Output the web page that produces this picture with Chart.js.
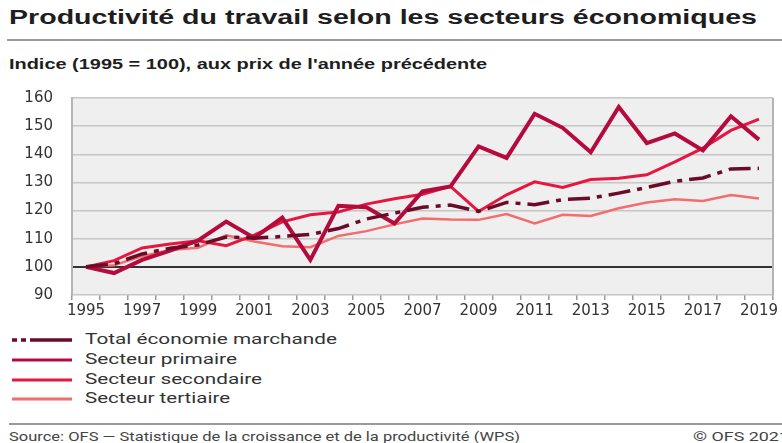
<!DOCTYPE html>
<html lang="fr">
<head>
<meta charset="utf-8">
<script src="https://cdn.jsdelivr.net/npm/chart.js@4/dist/chart.umd.min.js"></script>
<style>
  html, body { margin: 0; padding: 0; background: #fff; }
  body { width: 782px; height: 443px; position: relative; overflow: hidden; font-family: Roboto, "Liberation Sans", sans-serif; color: #222; }
  .txt { position: absolute; white-space: nowrap; transform-origin: 0 50%; display: inline-block; }
  #title { left: 9px; top: 6px; font: bold 20px "Liberation Sans", Arial, sans-serif; color: #1e1e1e; }
  #subtitle { left: 9px; top: 56px; font: bold 14px "Liberation Sans", Arial, sans-serif; color: #1e1e1e; }
  .rule { position: absolute; height: 2px; background: #9a9a9a; }
  #chartBox { position: absolute; left: 0; top: 70px; width: 782px; height: 253px; }
  #legend { position: absolute; left: 0; top: 330px; }
  .legItem { position: absolute; left: 0; height: 20px; width: 400px; }
  .legItem svg { position: absolute; left: 10px; top: 5px; }
  .legItem span { position: absolute; left: 85px; top: 1px; font-size: 14px; color: #333; }
  #source { left: 9px; top: 429px; font-size: 13px; color: #444; }
  #copy { left: 693px; top: 429px; font-size: 13px; color: #444; }
</style>
</head>
<body>
<div id="title" class="txt">Productivité du travail selon les secteurs économiques</div>
<div class="rule" style="left:7px; top:39px; width:775px;"></div>
<div id="subtitle" class="txt">Indice (1995 = 100), aux prix de l'année précédente</div>
<div id="chartBox"><canvas id="chart"></canvas></div>
<div id="legend"></div>
<div class="rule" style="left:9px; top:423px; width:773px;"></div>
<div id="source" class="txt">Source: OFS — Statistique de la croissance et de la productivité (WPS)</div>
<div id="copy" class="txt">© OFS 2021</div>

<script>
// Data
const years = ['1995','1996','1997','1998','1999','2000','2001','2002','2003','2004','2005','2006',
  '2007','2008','2009','2010','2011','2012','2013','2014','2015','2016','2017','2018','2019'];

const totalEco = [100, 101.1, 104.6, 106.6, 107.8, 110.6, 110.2, 110.8, 111.5, 113.6, 117.0, 119.1,
  121.2, 122.0, 119.7, 122.9, 122.1, 123.9, 124.4, 126.2, 128.2, 130.4, 131.6, 134.8, 135.0];
const primaire = [100, 97.8, 102.5, 105.8, 109.4, 116.1, 110.3, 117.5, 102.5, 121.7, 121.2, 115.4,
  126.8, 128.6, 142.8, 138.7, 154.4, 149.4, 140.7, 156.8, 144.0, 147.4, 141.4, 153.5, 145.2];
const secondaire = [100, 102.2, 106.7, 108.1, 109.3, 107.5, 111.3, 116.0, 118.5, 119.5, 122.3, 124.2,
  125.8, 128.6, 119.7, 125.6, 130.2, 128.2, 131.0, 131.5, 132.7, 137.3, 142.2, 148.5, 152.5];
const tertiaire = [100, 100.6, 103.8, 106.0, 106.8, 111.2, 109.0, 107.3, 107.0, 111.0, 112.7, 115.1,
  117.2, 116.8, 116.7, 118.8, 115.4, 118.5, 118.1, 120.8, 122.9, 124.0, 123.4, 125.5, 124.3];

const seriesNames = ['Total économie marchande', 'Secteur primaire', 'Secteur secondaire', 'Secteur tertiaire'];
const seriesValues = [totalEco, primaire, secondaire, tertiaire];
const seriesColors = ['#6b0b29', '#b50a3d', '#e6163f', '#f26d6d'];
const seriesWidths = [3.5, 4, 3, 2.5];
const seriesDash = [[22, 7, 5, 7], [], [], []];

const yTicks = [90, 100, 110, 120, 130, 140, 150, 160];

// stretch text boxes to the widths seen in the reference
function fitWidth(id, w) {
  const el = document.getElementById(id);
  const nat = el.getBoundingClientRect().width;
  el.style.transform = 'scaleX(' + (w / nat) + ')';
}
fitWidth('title', 748);
fitWidth('subtitle', 478);
fitWidth('source', 511);
fitWidth('copy', 96);

// legend
const legendEl = document.getElementById('legend');
const legendWidths = [252, 152, 177, 145];
seriesNames.forEach((name, i) => {
  const item = document.createElement('div');
  item.className = 'legItem';
  item.style.top = (i * 19.8) + 'px';
  const dash = i === 0 ? 'stroke-dasharray="5 4 5 4 60"' : '';
  item.innerHTML = `<svg width="64" height="10"><line x1="2" y1="5" x2="62" y2="5" stroke="${seriesColors[i]}" stroke-width="${i === 0 ? 3.5 : 3}" ${dash}/></svg><span>${name}</span>`;
  legendEl.appendChild(item);
  const sp = item.querySelector('span');
  sp.style.transformOrigin = '0 50%';
  sp.style.transform = 'scaleX(' + (legendWidths[i] / sp.getBoundingClientRect().width) + ')';
});

// plot background + right frame line
const plotFrame = {
  id: 'plotFrame',
  beforeDraw(chart) {
    const { ctx, chartArea: a } = chart;
    ctx.save();
    ctx.fillStyle = '#efefef';
    ctx.fillRect(a.left, a.top, a.right - a.left, a.bottom - a.top);
    ctx.restore();
  },
  afterDatasetsDraw(chart) {
    const { ctx, chartArea: a } = chart;
    ctx.save();
    ctx.strokeStyle = '#b4b4b4';
    ctx.lineWidth = 2;
    ctx.beginPath();
    ctx.moveTo(a.right, a.top);
    ctx.lineTo(a.right, a.bottom);
    ctx.stroke();
    ctx.restore();
  }
};

new Chart(document.getElementById('chart'), {
  type: 'line',
  data: {
    labels: years,
    datasets: seriesNames.map((name, i) => ({
      label: name,
      data: seriesValues[i],
      borderColor: seriesColors[i],
      backgroundColor: seriesColors[i],
      borderWidth: seriesWidths[i],
      borderDash: seriesDash[i],
      pointRadius: 0,
      tension: 0,
      fill: false
    }))
  },
  options: {
    responsive: true,
    maintainAspectRatio: false,
    animation: false,
    layout: { padding: { top: 0, right: 9, left: 10, bottom: 0 } },
    plugins: { legend: { display: false }, tooltip: { enabled: false } },
    scales: {
      x: {
        offset: true,
        grid: { offset: true, drawOnChartArea: false, color: '#9a9a9a', lineWidth: 1.5, tickLength: 5 },
        border: { display: false },
        ticks: {
          autoSkip: false,
          maxRotation: 0,
          padding: 2,
          color: '#333',
          font: { family: 'DejaVu Sans', size: 15 },
          callback: (v, i) => (i % 2 === 0 ? years[i] : '')
        },
        afterFit: (axis) => { axis.height = 20; }
      },
      y: {
        min: 90,
        max: 160,
        afterBuildTicks: (axis) => { axis.ticks = yTicks.map(v => ({ value: v })); },
        grid: {
          drawTicks: false,
          color: (c) => (c.tick && c.tick.value === 100 ? '#333' : '#c6c6c6'),
          lineWidth: (c) => (c.tick && c.tick.value === 100 ? 2 : 1.5)
        },
        border: { display: true, color: '#b4b4b4', width: 2 },
        ticks: {
          padding: 19,
          color: '#333',
          font: { family: 'DejaVu Sans', size: 15 }
        },
        afterFit: (axis) => { axis.width = 62; }
      }
    }
  },
  plugins: [plotFrame]
});
</script>
</body>
</html>
